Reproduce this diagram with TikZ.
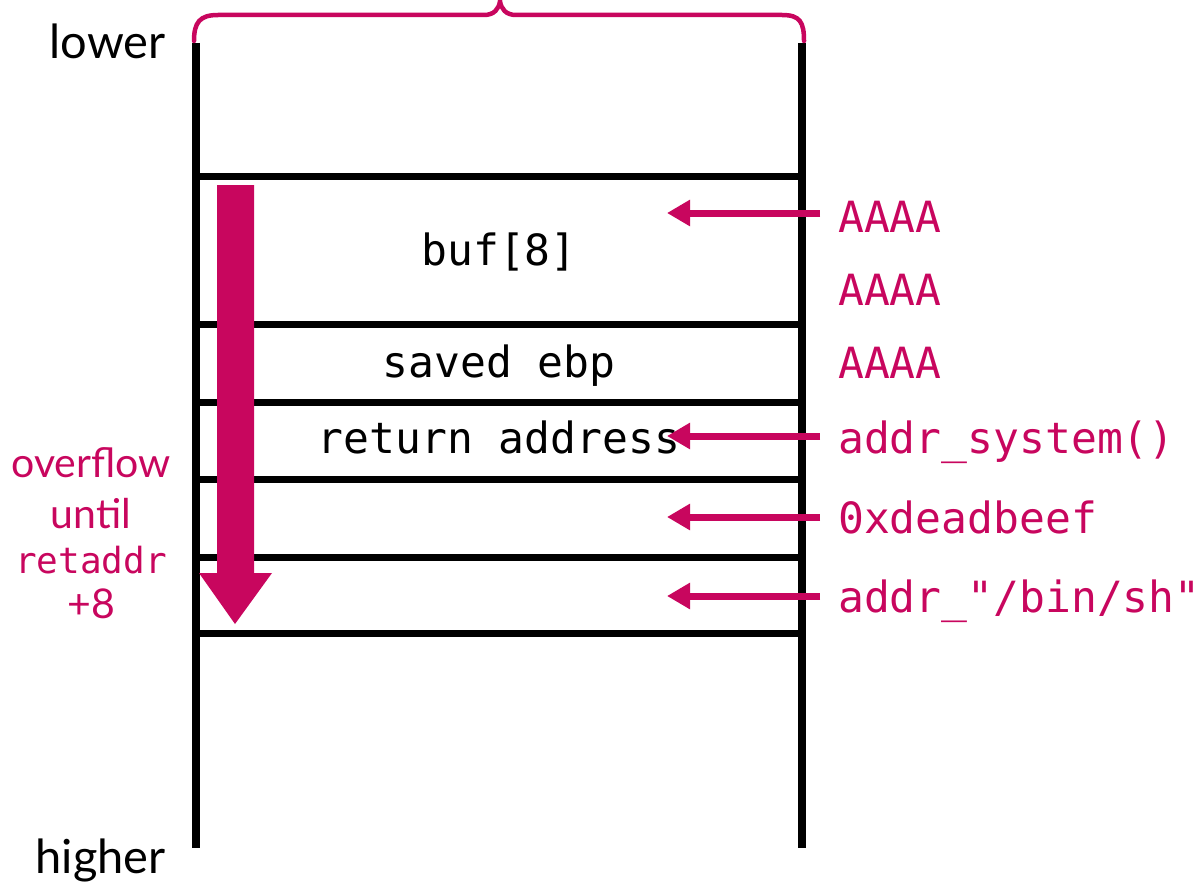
\documentclass[tikz,border=0pt]{standalone}
\usepackage{fontspec}
\setsansfont{Lato}
\setmonofont{DejaVu Sans Mono}
\usetikzlibrary{arrows.meta}
\definecolor{hot}{RGB}{200,6,94}
\tikzset{
  wall/.style={line width=7.5pt, draw=black},
  slot/.style={line width=7pt, draw=black},
  cell/.style={font=\ttfamily\fontsize{43}{50}\selectfont, anchor=base, inner sep=0pt},
  val/.style={font=\ttfamily\fontsize{43}{50}\selectfont, text=hot, anchor=base west, inner sep=0pt},
  side/.style={font=\sffamily\fontsize{47}{56}\selectfont, anchor=base east, inner sep=0pt},
  note/.style={font=\sffamily\fontsize{41}{48}\selectfont, text=hot, anchor=base, inner sep=0pt},
  ptr/.style={draw=hot, line width=7pt, -{Triangle[length=23pt,width=25pt]}},
  brace/.style={draw=hot, line width=4.5pt, line cap=round},
}
\begin{document}
\begin{tikzpicture}[x=1pt, y=-1pt]
  \useasboundingbox (0,0) rectangle (1198,883);

  % stack walls
  \coordinate (tl) at (196,43);
  \coordinate (bl) at (196,848);
  \coordinate (tr) at (802,43);
  \coordinate (br) at (802,848);
  \draw[wall] (tl) -- (bl);
  \draw[wall] (tr) -- (br);

  % slot boundaries
  \foreach \y [count=\i] in {176,324,402,479,557,633} {
    \coordinate (s\i l) at (196,\y);
    \coordinate (s\i r) at (802,\y);
    \draw[slot] (s\i l) -- (s\i r);
  }

  % brace over the stack
  \draw[brace] (194,41) .. controls (194,22) and (200,15) .. (218,15)
    -- (484,15) .. controls (494,15) and (499,9) .. (500,1)
    .. controls (501,9) and (506,15) .. (516,15)
    -- (782,15) .. controls (800,15) and (804,22) .. (804,41);

  % slot contents
  \node[cell] (buf) at (499,265) {buf[8]};
  \node[cell] (ebp) at (499,377) {saved ebp};
  \node[cell] (ret) at (499,453) {return address};

  % address labels
  \node[side] (lower) at (166,59) {lower};
  \node[side] (higher) at (166,873) {higher};

  % overflow direction
  \coordinate (ov1) at (217,185);
  \coordinate (ov2) at (254,185);
  \coordinate (ov3) at (254,573);
  \coordinate (ov4) at (272,573);
  \coordinate (ovtip) at (235,624);
  \coordinate (ov5) at (199,573);
  \coordinate (ov6) at (217,573);
  \fill[hot] (ov1) -- (ov2) -- (ov3) -- (ov4) -- (ovtip) -- (ov5) -- (ov6) -- cycle;

  \node[note] (n1) at (91,477) {overflow};
  \node[note] (n2) at (91,528) {until};
  \node[note, font=\ttfamily\fontsize{36}{44}\selectfont] (n3) at (91,573) {retaddr};
  \node[note] (n4) at (91,618) {+8};

  % payload words
  \node[val] (v1) at (838,232) {AAAA};
  \node[val] (v2) at (838,305) {AAAA};
  \node[val] (v3) at (838,378) {AAAA};
  \node[val] (v4) at (838,453) {addr\_system()};
  \node[val] (v5) at (838,533) {0xdeadbeef};
  \node[val] (v6) at (838,612) {addr\_"/bin/sh"};

  % where each word lands
  \foreach \y [count=\i] in {213,436,517,596} {
    \coordinate (pa\i) at (820,\y);
    \coordinate (pb\i) at (667,\y);
    \draw[ptr] (pa\i) -- (pb\i);
  }
\end{tikzpicture}
\end{document}
